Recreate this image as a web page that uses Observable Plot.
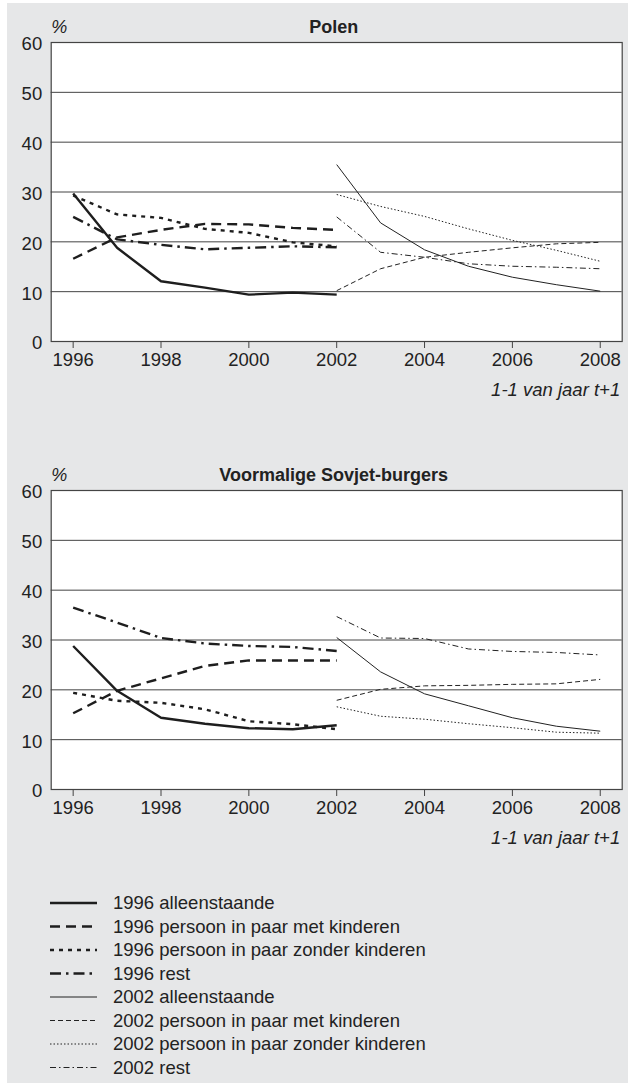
<!DOCTYPE html>
<html><head><meta charset="utf-8">
<script src="https://cdn.jsdelivr.net/npm/d3@7"></script>
<script src="https://cdn.jsdelivr.net/npm/@observablehq/plot@0.6"></script>
<style>
body{margin:0;background:#fff;font-family:"Liberation Sans",Arial,sans-serif;}
#wrap{position:relative;width:628px;height:1086px;overflow:hidden;}
#panel{position:absolute;left:7px;top:3px;width:621px;height:1080px;background:#e6e7e8;}
.chart{position:absolute;left:0;}
#legend{position:absolute;left:0;top:880px;}
</style>
</head><body>
<div id="wrap"><div id="panel"></div><div id="c1" class="chart" style="top:0px"></div><div id="c2" class="chart" style="top:448px"></div><div id="legend"></div></div>
<script>
// ---- data ----
const years1996 = [1996, 1997, 1998, 1999, 2000, 2001, 2002];
const years2002 = [2002, 2003, 2004, 2005, 2006, 2007, 2008];
const xTickLabels = [1996, 1998, 2000, 2002, 2004, 2006, 2008];
const yTickLabels = [0, 10, 20, 30, 40, 50, 60];
const seriesNames = [
  "1996 alleenstaande", "1996 persoon in paar met kinderen", "1996 persoon in paar zonder kinderen", "1996 rest",
  "2002 alleenstaande", "2002 persoon in paar met kinderen", "2002 persoon in paar zonder kinderen", "2002 rest"
];
const chartTitles = ["Polen", "Voormalige Sovjet-burgers"];
const unitLabel = "%";
const xCaption = "1-1 van jaar t+1";

// Polen
const polen1996Alleen  = [29.7, 18.8, 12.1, 10.8, 9.4, 9.8, 9.4];
const polen1996Met     = [16.6, 20.9, 22.4, 23.6, 23.5, 22.8, 22.4];
const polen1996Zonder  = [29.3, 25.5, 24.8, 22.6, 21.8, 19.9, 19.1];
const polen1996Rest    = [25.0, 20.5, 19.4, 18.5, 18.8, 19.1, 18.9];
const polen2002Alleen  = [35.5, 23.8, 18.4, 15.1, 12.9, 11.4, 10.1];
const polen2002Met     = [10.2, 14.6, 16.9, 17.9, 18.8, 19.6, 19.9];
const polen2002Zonder  = [29.5, 27.1, 25.1, 22.6, 20.3, 18.3, 16.1];
const polen2002Rest    = [25.0, 17.9, 16.9, 15.6, 15.1, 14.9, 14.6];

// Voormalige Sovjet-burgers
const sovjet1996Alleen = [28.8, 19.8, 14.4, 13.2, 12.3, 12.1, 12.9];
const sovjet1996Met    = [15.3, 19.8, 22.3, 24.8, 25.9, 25.9, 25.9];
const sovjet1996Zonder = [19.4, 17.8, 17.4, 16.1, 13.7, 13.1, 12.1];
const sovjet1996Rest   = [36.5, 33.5, 30.4, 29.3, 28.8, 28.6, 27.8];
const sovjet2002Alleen = [30.5, 23.6, 19.2, 16.8, 14.4, 12.7, 11.7];
const sovjet2002Met    = [17.9, 20.1, 20.8, 20.9, 21.1, 21.2, 22.1];
const sovjet2002Zonder = [16.6, 14.7, 14.1, 13.2, 12.4, 11.5, 11.3];
const sovjet2002Rest   = [34.7, 30.4, 30.3, 28.2, 27.7, 27.5, 27.0];

// ---- styles ----
const styles = [
  {w: 2.4, dash: null, color: "#1e1e1e"},
  {w: 2.4, dash: "10,6", color: "#1e1e1e"},
  {w: 2.4, dash: "4,5", color: "#1e1e1e"},
  {w: 2.4, dash: "11,5,2.5,5", color: "#1e1e1e"},
  {w: 1, dash: null, color: "#222"},
  {w: 1, dash: "5,3", color: "#222"},
  {w: 1, dash: "1.5,2", color: "#222"},
  {w: 1, dash: "6,3,1.5,3", color: "#222"}
];

function seriesRows(years, values) {
  return years.map((y, i) => ({year: y, value: values[i]}));
}

function makeChart(title, vals) {
  const yearsFor = [years1996, years1996, years1996, years1996, years2002, years2002, years2002, years2002];
  const lineMarks = vals.map((v, i) => Plot.line(seriesRows(yearsFor[i], v), {
    x: "year", y: "value", stroke: styles[i].color, strokeWidth: styles[i].w,
    strokeDasharray: styles[i].dash || undefined, strokeLinejoin: "round", strokeLinecap: "butt"
  }));
  return Plot.plot({
    width: 628, height: 410,
    marginTop: 42, marginBottom: 69, marginLeft: 50.7, marginRight: 6.3,
    style: {background: "transparent", fontFamily: "'Liberation Sans', Arial, sans-serif", fontSize: "18.5px", color: "#222", overflow: "visible"},
    x: {domain: [1995.5, 2008.5]},
    y: {domain: [0, 60]},
    marks: [
      Plot.frame({fill: "white", stroke: "none"}),
      Plot.ruleY(yTickLabels.filter(d => d > 0 && d < 60), {stroke: "#444", strokeWidth: 1}),
      Plot.frame({fill: "none", stroke: "#444", strokeWidth: 1.2}),
      Plot.axisX({ticks: xTickLabels, tickFormat: "d", tickSize: 7, tickPadding: 4, label: null, fontSize: 18.5, stroke: "#444"}),
      Plot.axisY({ticks: yTickLabels, tickFormat: "d", tickSize: 0, tickPadding: 9, label: null, fontSize: 18.5, dy: 2}),
      ...lineMarks,
      Plot.text([title], {frameAnchor: "top", lineAnchor: "bottom", dy: -10, dx: -3, fontWeight: "bold", fontSize: 18, fill: "#222"}),
      Plot.text([unitLabel], {frameAnchor: "top-left", textAnchor: "start", lineAnchor: "bottom", dy: -10, fontStyle: "italic", fontSize: 18, fill: "#222"}),
      Plot.text([xCaption], {frameAnchor: "bottom-right", textAnchor: "end", dy: 54, dx: -2, fontStyle: "italic", fontSize: 18.5, fill: "#222"})
    ]
  });
}

document.getElementById("c1").appendChild(makeChart(chartTitles[0],
  [polen1996Alleen, polen1996Met, polen1996Zonder, polen1996Rest, polen2002Alleen, polen2002Met, polen2002Zonder, polen2002Rest]));
document.getElementById("c2").appendChild(makeChart(chartTitles[1],
  [sovjet1996Alleen, sovjet1996Met, sovjet1996Zonder, sovjet1996Rest, sovjet2002Alleen, sovjet2002Met, sovjet2002Zonder, sovjet2002Rest]));

// ---- legend ----
const lg = d3.select("#legend").append("svg").attr("width", 628).attr("height", 206)
  .style("font-family", "'Liberation Sans', Arial, sans-serif");
seriesNames.forEach((name, i) => {
  const y = 23 + i * 23.5;
  const ln = lg.append("line").attr("x1", 50).attr("x2", 97).attr("y1", y).attr("y2", y)
    .attr("stroke", styles[i].color).attr("stroke-width", styles[i].w);
  if (styles[i].dash) ln.attr("stroke-dasharray", styles[i].dash);
  lg.append("text").attr("x", 113).attr("y", y).attr("dy", "0.35em")
    .attr("font-size", 18.5).attr("fill", "#222").text(name);
});
</script>
</body></html>
